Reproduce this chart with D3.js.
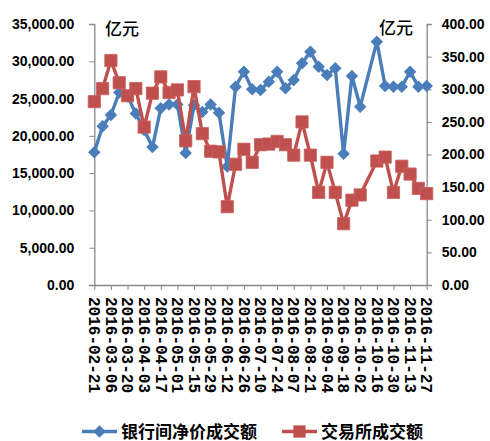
<!DOCTYPE html>
<html>
<head>
<meta charset="utf-8">
<script src="https://cdn.jsdelivr.net/npm/d3@7/dist/d3.min.js"></script>
<style>
  html, body { margin: 0; padding: 0; background: #fff; }
  svg { display: block; }
</style>
</head>
<body>
<svg id="chart" width="490" height="441"></svg>
<script>
// Weekly dates
const dates = [
  "2016-02-21","2016-02-28","2016-03-06","2016-03-13","2016-03-20","2016-03-27",
  "2016-04-03","2016-04-10","2016-04-17","2016-04-24","2016-05-01","2016-05-08",
  "2016-05-15","2016-05-22","2016-05-29","2016-06-05","2016-06-12","2016-06-19",
  "2016-06-26","2016-07-03","2016-07-10","2016-07-17","2016-07-24","2016-07-31",
  "2016-08-07","2016-08-14","2016-08-21","2016-08-28","2016-09-04","2016-09-11",
  "2016-09-18","2016-09-25","2016-10-02","2016-10-09","2016-10-16","2016-10-23",
  "2016-10-30","2016-11-06","2016-11-13","2016-11-20","2016-11-27"
];

// 银行间净价成交额 (亿元, left axis)
const interbank = [
  17800, 21300, 22800, 25800, 25300, 23000, 20800, 18500, 23700, 24200,
  24200, 17700, 24100, 23200, 24200, 23100, 15900, 26600, 28600, 26240,
  26150, 27260, 28600, 26370, 27490, 29730, 31290, 29280, 28160, 29060,
  17600, 28030, 23910, null, 32630, 26690, 26600, 26600, 28600, 26600,
  26690
];

// 交易所成交额 (亿元, right axis)
const exchange = [
  281, 301, 344, 310, 290, 301, 242, 294, 319, 295,
  299, 221, 304, 232, 205, 204, 120, 185, 208, 188,
  215, 216, 220, 215, 199, 250, 199, 142, 188, 142,
  94, 130, 138, null, 190, 196, 142, 182, 170, 148,
  140
];

const leftTicks = [0, 5000, 10000, 15000, 20000, 25000, 30000, 35000];
const rightTicks = [0, 50, 100, 150, 200, 250, 300, 350, 400];
const seriesNames = ["银行间净价成交额", "交易所成交额"];
const unitLabel = "亿元";

const blue = "#4A7EBB";
const red = "#C0504D";
const axisColor = "#878787";

const svg = d3.select("#chart");
const plot = { left: 94.3, right: 426.7, top: 24, bottom: 285 };

const x = d3.scalePoint().domain(dates).range([plot.left, plot.right]);
const yL = d3.scaleLinear().domain([0, 35000]).range([plot.bottom, plot.top]);
const yR = d3.scaleLinear().domain([0, 400]).range([plot.bottom, plot.top]);

const numFmt = d3.format(",.2f");

// Left axis
const gL = svg.append("g")
  .attr("transform", `translate(${plot.left},0)`)
  .call(d3.axisLeft(yL).tickValues(leftTicks).tickSize(5).tickPadding(15).tickFormat(numFmt));

// Right axis
const gR = svg.append("g")
  .attr("transform", `translate(${plot.right},0)`)
  .call(d3.axisRight(yR).tickValues(rightTicks).tickSize(5).tickPadding(10).tickFormat(numFmt));

// Bottom axis: label every other week
const gX = svg.append("g")
  .attr("transform", `translate(0,${plot.bottom})`)
  .call(d3.axisBottom(x).tickValues(dates.filter((d, i) => i % 2 === 0)).tickSize(5).tickSizeOuter(0));

[gL, gR, gX].forEach(g => {
  g.select(".domain").attr("stroke", axisColor).attr("stroke-width", 1.3);
  g.selectAll(".tick line").attr("stroke", axisColor).attr("stroke-width", 1);
});

[gL, gR].forEach(g => {
  g.selectAll(".tick text")
    .attr("fill", "#000")
    .style("font-family", "'Liberation Sans', Arial, sans-serif")
    .style("font-weight", "bold")
    .style("font-size", "14px");
});

gX.selectAll(".tick text")
  .attr("fill", "#000")
  .attr("transform", "rotate(90)")
  .attr("x", 12)
  .attr("y", 0)
  .attr("dy", "0.36em")
  .attr("text-anchor", "start")
  .style("font-family", "'Liberation Mono', 'DejaVu Sans Mono', monospace")
  .style("font-weight", "bold")
  .style("font-size", "16px");

// Series drawing
const idx = d3.range(dates.length);

function drawSeries(values, yScale, color, markerPath, width) {
  const pts = idx.filter(i => values[i] != null);
  const line = d3.line()
    .x(i => x(dates[i]))
    .y(i => yScale(values[i]));
  svg.append("path")
    .datum(pts)
    .attr("d", line)
    .attr("fill", "none")
    .attr("stroke", color)
    .attr("stroke-width", width)
    .attr("stroke-linejoin", "round");
  return svg.append("g").selectAll("path")
    .data(pts)
    .join("path")
    .attr("d", markerPath)
    .attr("transform", i => `translate(${x(dates[i])},${yScale(values[i])})`);
}

// Diamond markers for the interbank series
const diamond = d3.symbol().type(d3.symbolSquare).size(78)();
drawSeries(interbank, yL, blue, diamond, 3.4)
  .attr("fill", blue)
  .attr("transform", i => `translate(${x(dates[i])},${yL(interbank[i])}) rotate(45)`);

// Square markers for the exchange series
const square = d3.symbol().type(d3.symbolSquare).size(150)();
drawSeries(exchange, yR, red, square, 3.4)
  .attr("fill", red)
  .attr("stroke", "#C9605D")
  .attr("stroke-width", 0.8);

// Unit labels
const unitStyle = s => s
  .style("font-family", "'Noto Sans CJK SC', sans-serif")
  .style("font-size", "17px")
  .style("font-weight", "500")
  .attr("fill", "#000");
svg.append("text").attr("x", 105).attr("y", 35).text(unitLabel).call(unitStyle);
svg.append("text").attr("x", 379).attr("y", 34).text(unitLabel).call(unitStyle);

// Legend
const legend = svg.append("g");
const legY = 431.5;
const items = [
  { name: seriesNames[0], color: blue, x0: 82, marker: diamond, rot: 45 },
  { name: seriesNames[1], color: red, x0: 282, marker: square, rot: 0 }
];
items.forEach(it => {
  legend.append("line")
    .attr("x1", it.x0).attr("x2", it.x0 + 35)
    .attr("y1", legY).attr("y2", legY)
    .attr("stroke", it.color).attr("stroke-width", 3.4);
  legend.append("path")
    .attr("d", it.marker)
    .attr("fill", it.color)
    .attr("transform", `translate(${it.x0 + 17.5},${legY}) rotate(${it.rot})`);
  legend.append("text")
    .attr("x", it.x0 + 39)
    .attr("y", legY + 6)
    .text(it.name)
    .style("font-family", "'Noto Sans CJK SC', sans-serif")
    .style("font-weight", "bold")
    .style("font-size", "17px")
    .attr("fill", "#000");
});
</script>
</body>
</html>
